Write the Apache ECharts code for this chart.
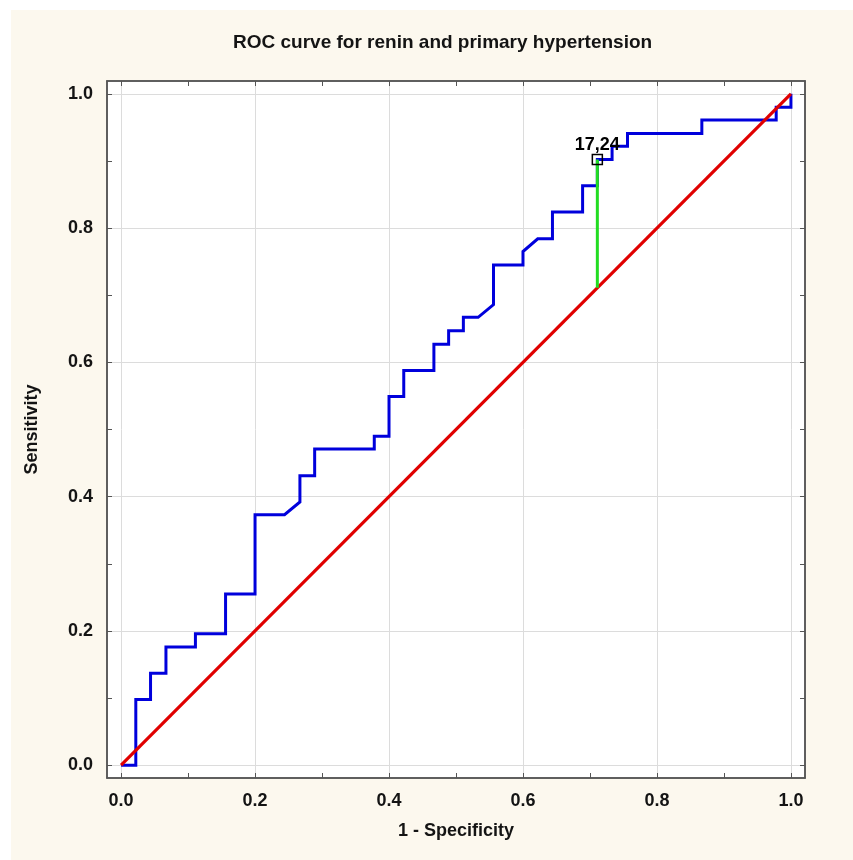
<!DOCTYPE html>
<html>
<head>
<meta charset="utf-8">
<script src="https://cdn.jsdelivr.net/npm/echarts@6/dist/echarts.min.js"></script>
<style>
html,body{margin:0;padding:0;background:#fff;}
#chart{width:853px;height:860px;}
</style>
</head>
<body>
<div id="chart"></div>
<script>
// ---- data ----
const chartTitle = 'ROC curve for renin and primary hypertension';
const xAxisName = '1 - Specificity';
const yAxisName = 'Sensitivity';
// ROC curve vertices (1 - specificity, sensitivity)
const rocFpr = [0, 0.022, 0.022, 0.044, 0.044, 0.067, 0.067, 0.111, 0.111, 0.156, 0.156, 0.2, 0.2, 0.244, 0.267, 0.267, 0.289, 0.289, 0.378, 0.378, 0.4, 0.4, 0.422, 0.422, 0.467, 0.467, 0.489, 0.489, 0.511, 0.511, 0.533, 0.556, 0.556, 0.6, 0.6, 0.622, 0.644, 0.644, 0.689, 0.689, 0.711, 0.711, 0.733, 0.733, 0.756, 0.756, 0.867, 0.867, 0.978, 0.978, 1.0, 1.0];
const rocTpr = [0, 0, 0.098, 0.098, 0.137, 0.137, 0.176, 0.176, 0.196, 0.196, 0.255, 0.255, 0.373, 0.373, 0.392, 0.431, 0.431, 0.471, 0.471, 0.49, 0.49, 0.549, 0.549, 0.588, 0.588, 0.627, 0.627, 0.647, 0.647, 0.667, 0.667, 0.686, 0.745, 0.745, 0.765, 0.784, 0.784, 0.824, 0.824, 0.863, 0.863, 0.902, 0.902, 0.922, 0.922, 0.941, 0.941, 0.961, 0.961, 0.98, 0.98, 1.0];
// reference (chance) line
const refX = [0, 1];
const refY = [0, 1];
// optimal cut-off (Youden index)
const cutoffX = 0.711;
const cutoffLow = 0.711;
const cutoffHigh = 0.902;
const cutoffLabel = '17,24';
// ticks
const labelValues = [0, 0.2, 0.4, 0.6, 0.8, 1.0];
const tickValues = [0, 0.1, 0.2, 0.3, 0.4, 0.5, 0.6, 0.7, 0.8, 0.9, 1.0];

// ---- chart ----
const FONT = 'Liberation Sans, Arial, sans-serif';
const TXT = '#141414';
const AX = '#555';
const xMin = -0.021, xMax = 1.021, yMin = -0.019, yMax = 1.019;

const rocData = rocFpr.map((x, i) => [x, rocTpr[i]]);
const refData = refX.map((x, i) => [x, refY[i]]);

function frameAxis(extra) {
  return Object.assign({
    type: 'value',
    axisLine: { show: true, onZero: false, lineStyle: { color: AX, width: 1.5 } },
    axisTick: { show: true, inside: true, length: 5, customValues: tickValues, lineStyle: { color: AX, width: 1 } },
    axisLabel: { show: false },
    splitLine: { show: false }
  }, extra);
}
function gridLineAxis(extra) {
  return Object.assign({
    type: 'value',
    gridIndex: 1,
    axisLine: { show: false },
    axisTick: { show: false, customValues: labelValues },
    axisLabel: { show: false },
    splitLine: { show: true, lineStyle: { color: '#dcdcdc', width: 1 } }
  }, extra);
}
const labelStyle = {
  show: true, customValues: labelValues, margin: 14,
  formatter: v => v.toFixed(1),
  fontSize: 18, fontWeight: 'bold', fontFamily: FONT, color: TXT
};
const nameStyle = { fontSize: 18, fontWeight: 'bold', fontFamily: FONT, color: TXT };

const chart = echarts.init(document.getElementById('chart'), null, { renderer: 'canvas' });
chart.setOption({
  animation: false,
  backgroundColor: '#ffffff',
  graphic: [{
    type: 'rect', z: -10, silent: true,
    shape: { x: 11, y: 10, width: 842, height: 850 },
    style: { fill: '#fcf8ee' }
  }],
  title: {
    text: chartTitle, left: 228, top: 28,
    textStyle: { fontSize: 19, fontWeight: 'bold', fontFamily: FONT, color: TXT }
  },
  grid: [
    { left: 107, top: 81, width: 698, height: 697, show: true, backgroundColor: '#ffffff', borderColor: AX, borderWidth: 1.5 },
    { left: 107, top: 81, width: 698, height: 697 }
  ],
  xAxis: [
    frameAxis({ gridIndex: 0, position: 'bottom', min: xMin, max: xMax,
      axisLabel: labelStyle, name: xAxisName, nameLocation: 'middle', nameGap: 44, nameTextStyle: nameStyle }),
    frameAxis({ gridIndex: 0, position: 'top', min: xMin, max: xMax }),
    gridLineAxis({ position: 'bottom', min: xMin, max: xMax })
  ],
  yAxis: [
    frameAxis({ gridIndex: 0, position: 'left', min: yMin, max: yMax,
      axisLabel: labelStyle, name: yAxisName, nameLocation: 'middle', nameGap: 66, nameTextStyle: nameStyle }),
    frameAxis({ gridIndex: 0, position: 'right', min: yMin, max: yMax }),
    gridLineAxis({ position: 'left', min: yMin, max: yMax })
  ],
  series: [
    {
      type: 'line', xAxisIndex: 0, yAxisIndex: 0, data: rocData,
      showSymbol: false, symbol: 'none', z: 3,
      lineStyle: { color: '#0000dc', width: 3, join: 'miter' }
    },
    {
      type: 'line', xAxisIndex: 0, yAxisIndex: 0, data: refData,
      showSymbol: false, symbol: 'none', z: 4,
      lineStyle: { color: '#e00000', width: 3.2 }
    },
    {
      type: 'line', xAxisIndex: 0, yAxisIndex: 0, data: [[cutoffX, cutoffLow], [cutoffX, cutoffHigh]],
      showSymbol: false, symbol: 'none', z: 4,
      lineStyle: { color: '#22dd22', width: 3 }
    },
    {
      type: 'scatter', xAxisIndex: 0, yAxisIndex: 0, data: [[cutoffX, cutoffHigh]],
      symbol: 'rect', symbolSize: 10, z: 5,
      itemStyle: { color: 'rgba(0,0,0,0)', borderColor: '#000', borderWidth: 1.5, opacity: 1 },
      label: { show: true, position: 'top', distance: 0, formatter: cutoffLabel,
        fontSize: 18, fontWeight: 'bold', fontFamily: FONT, color: '#000' }
    }
  ]
});
</script>
</body>
</html>
